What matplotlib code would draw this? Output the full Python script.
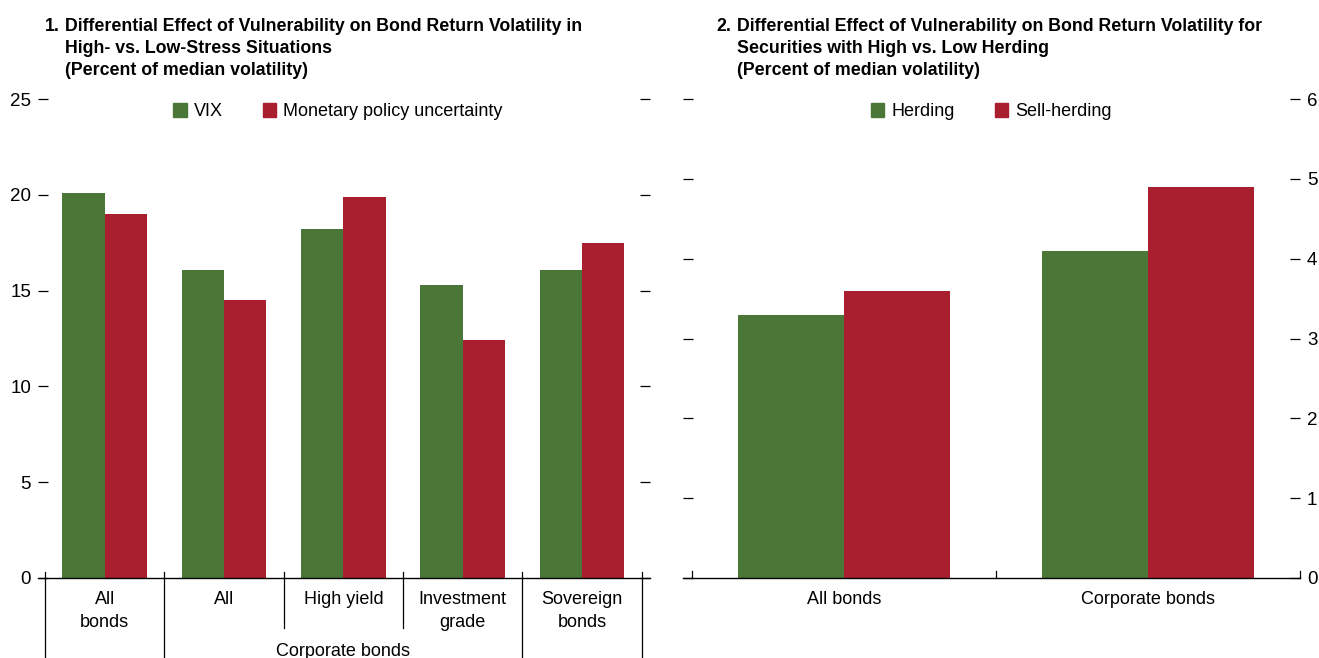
import matplotlib.pyplot as plt
from matplotlib.patches import Patch
from matplotlib.transforms import blended_transform_factory

plt.rcParams['font.family'] = ['Liberation Sans Narrow', 'Liberation Sans', 'DejaVu Sans']

GREEN = "#4a7637"
RED = "#aa1f30"

# panel 1 data
cats1 = ["All\nbonds", "All", "High yield", "Investment\ngrade", "Sovereign\nbonds"]
vix = [20.1, 16.1, 18.2, 15.3, 16.1]
mpu = [19.0, 14.5, 19.9, 12.4, 17.5]

# panel 2 data
cats2 = ["All bonds", "Corporate bonds"]
herding = [3.3, 4.1]
sell_herding = [3.6, 4.9]

W, H = 1319, 658
fig = plt.figure(figsize=(W / 100, H / 100), dpi=100)


def px_axes(x0, x1, y_top, y_bot):
    return fig.add_axes([x0 / W, 1 - y_bot / H, (x1 - x0) / W, (y_bot - y_top) / H])


def style(ax):
    for s in ["top", "left", "right"]:
        ax.spines[s].set_visible(False)
    ax.spines["bottom"].set_linewidth(1.0)
    ax.tick_params(axis="y", which="both", direction="in", length=7, width=0.9,
                   left=True, right=True, labelsize=13.5, pad=5)
    ax.tick_params(axis="x", bottom=False, labelbottom=False)


fs = 13
bw = 0.355

# ---- panel 1 ----
ax1 = px_axes(38, 650, 99, 578)
style(ax1)
x1 = list(range(len(cats1)))
ax1.bar([i - bw / 2 for i in x1], vix, width=bw, color=GREEN, label="VIX")
ax1.bar([i + bw / 2 for i in x1], mpu, width=bw, color=RED, label="Monetary policy uncertainty")
ax1.set_xlim(-0.56, 4.57)
ax1.set_ylim(0, 25)
ax1.set_yticks([0, 5, 10, 15, 20, 25])
ax1.tick_params(axis="y", labelleft=True, labelright=False)

ax_h = 479.0
tr1 = blended_transform_factory(ax1.transData, ax1.transAxes)
for sx, full in [(-0.5, True), (0.5, True), (1.5, False), (2.5, False), (3.5, True), (4.5, True)]:
    y_end = -80 / ax_h if full else -50 / ax_h
    ax1.plot([sx, sx], [6 / ax_h, y_end], color="black", lw=0.9,
             transform=tr1, clip_on=False)
for i, c in enumerate(cats1):
    ax1.text(i, -13 / ax_h, c, transform=tr1, ha="center", va="top",
             fontsize=fs, linespacing=1.45)
ax1.text(2.0, -65 / ax_h, "Corporate bonds", transform=tr1, ha="center", va="top",
         fontsize=fs)

ax1.legend(handles=[Patch(color=GREEN, label="VIX"),
                    Patch(color=RED, label="Monetary policy uncertainty")],
           loc="upper center", bbox_to_anchor=(0.49, 1.006), ncol=2, frameon=False,
           fontsize=fs, handlelength=0.75, handleheight=0.75, handletextpad=0.4,
           columnspacing=2.2, borderaxespad=0.0)

# ---- panel 2 ----
ax2 = px_axes(683, 1300, 99, 578)
style(ax2)
x2 = list(range(len(cats2)))
bw2 = 0.35
ax2.bar([i - bw2 / 2 for i in x2], herding, width=bw2, color=GREEN)
ax2.bar([i + bw2 / 2 for i in x2], sell_herding, width=bw2, color=RED)
ax2.set_xlim(-0.53, 1.5)
ax2.set_ylim(0, 6)
ax2.set_yticks(range(7))
ax2.tick_params(axis="y", labelleft=False, labelright=True)

tr2 = blended_transform_factory(ax2.transData, ax2.transAxes)
for sx in [-0.5, 0.5, 1.5]:
    ax2.plot([sx, sx], [0, 7 / ax_h], color="black", lw=0.9,
             transform=tr2, clip_on=False)
for i, c in enumerate(cats2):
    ax2.text(i, -13 / ax_h, c, transform=tr2, ha="center", va="top", fontsize=fs)

ax2.legend(handles=[Patch(color=GREEN, label="Herding"),
                    Patch(color=RED, label="Sell-herding")],
           loc="upper center", bbox_to_anchor=(0.5, 1.006), ncol=2, frameon=False,
           fontsize=fs, handlelength=0.75, handleheight=0.75, handletextpad=0.4,
           columnspacing=2.2, borderaxespad=0.0)

# ---- titles ----
tfs = 12.8
ty = 1 - 18 / H
fig.text(45 / W, ty, "1.", fontsize=tfs, fontweight="bold", va="top")
fig.text(65 / W, ty,
         "Differential Effect of Vulnerability on Bond Return Volatility in\n"
         "High- vs. Low-Stress Situations\n(Percent of median volatility)",
         fontsize=tfs, fontweight="bold", va="top", linespacing=1.4)
fig.text(716 / W, ty, "2.", fontsize=tfs, fontweight="bold", va="top")
fig.text(737 / W, ty,
         "Differential Effect of Vulnerability on Bond Return Volatility for\n"
         "Securities with High vs. Low Herding\n(Percent of median volatility)",
         fontsize=tfs, fontweight="bold", va="top", linespacing=1.4)

fig.savefig("out.png", dpi=100)
